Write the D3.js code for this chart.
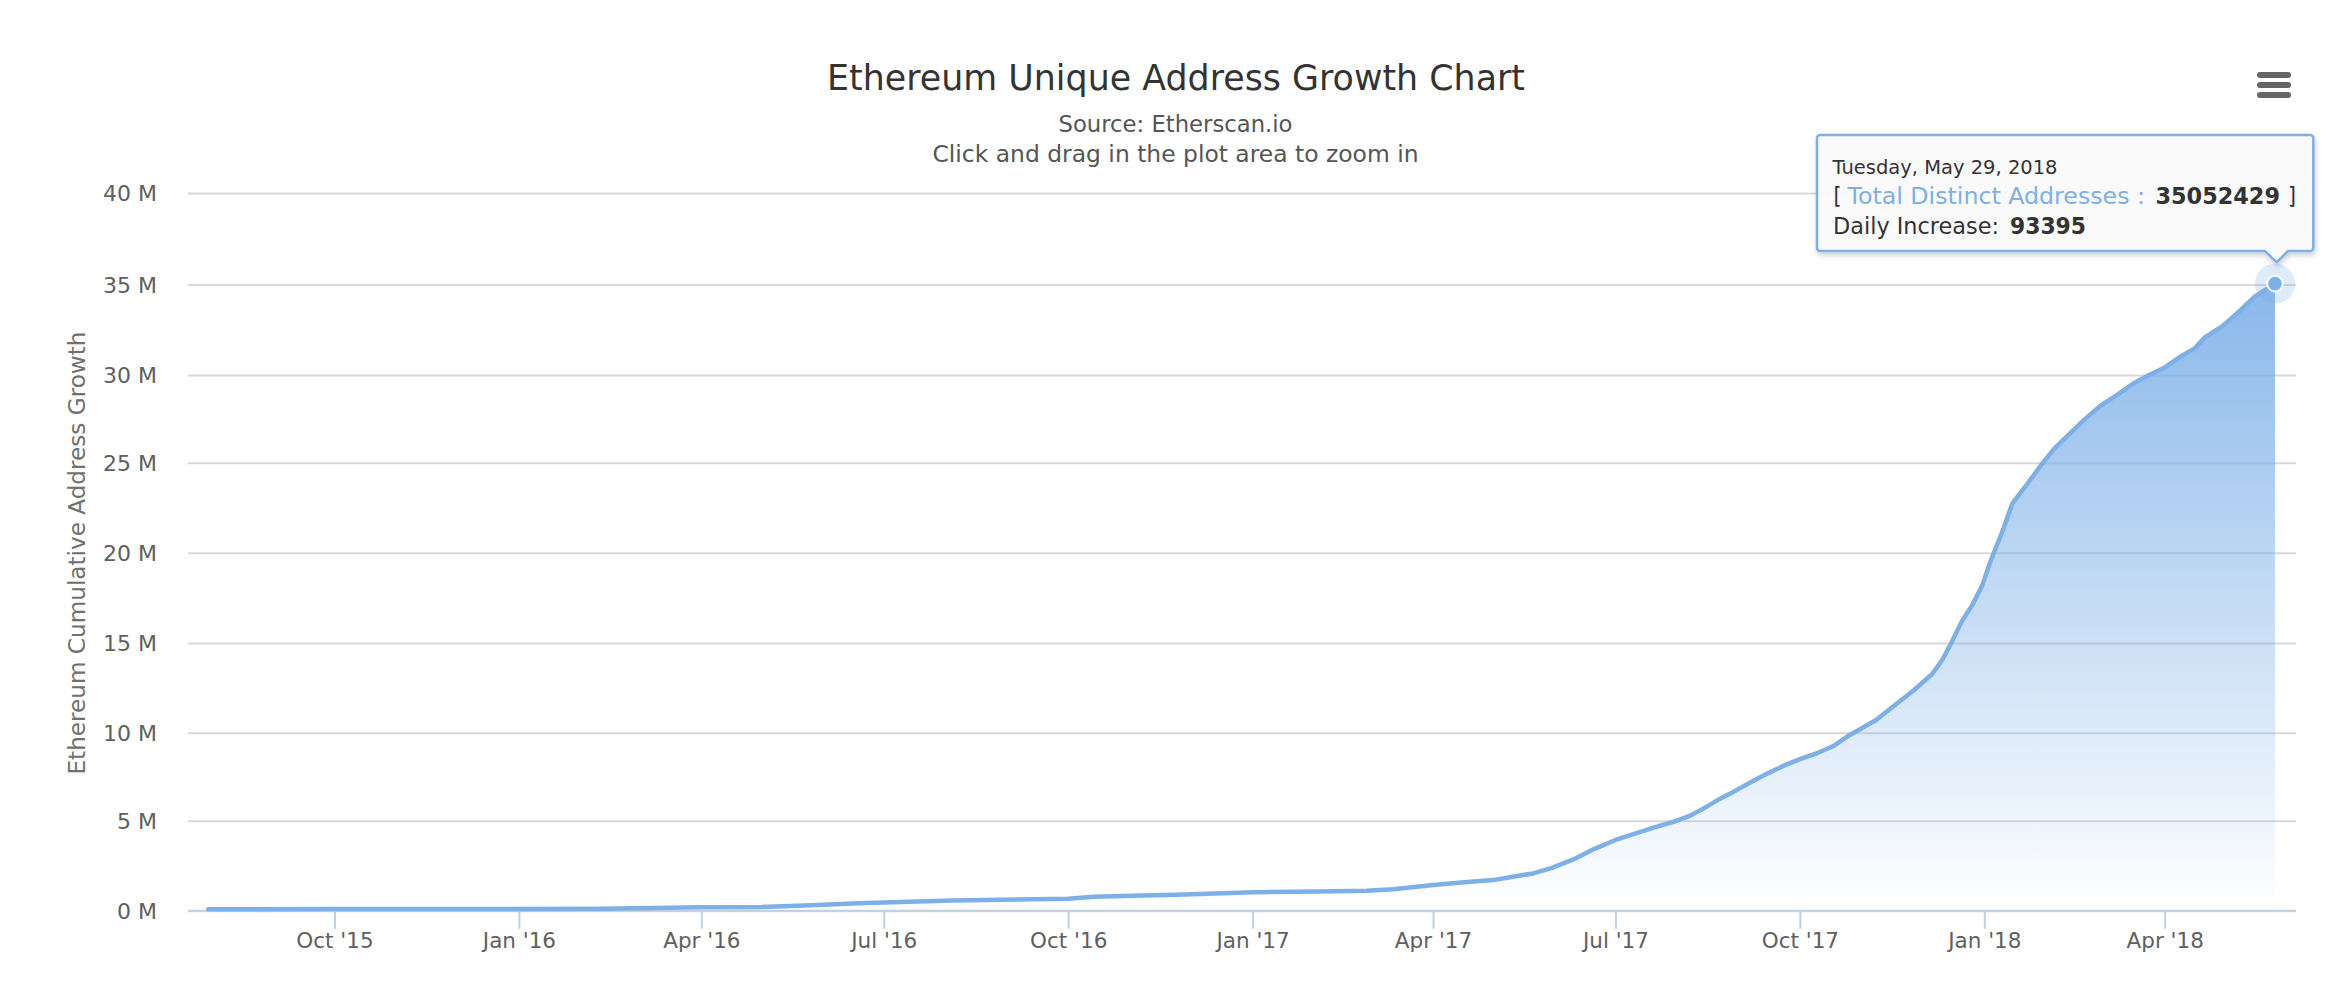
<!DOCTYPE html>
<html>
<head>
<meta charset="utf-8">
<title>Ethereum Unique Address Growth Chart</title>
<script src="https://cdnjs.cloudflare.com/ajax/libs/d3/7.8.5/d3.min.js"></script>
<style>
html,body{margin:0;padding:0;background:#fff;}
svg{display:block;}
text{font-family:"DejaVu Sans",sans-serif;}
</style>
</head>
<body>
<svg id="chart" width="2330" height="986"></svg>
<script>
const chartTitle = "Ethereum Unique Address Growth Chart";
const subtitleLines = ["Source: Etherscan.io", "Click and drag in the plot area to zoom in"];
const yAxisTitle = "Ethereum Cumulative Address Growth";
const seriesName = "Total Distinct Addresses";
const tooltipDate = "Tuesday, May 29, 2018";
const tooltipTotal = "35052429";
const tooltipDaily = "93395";

const dates = [
"2015-07-30","2015-10-01","2016-01-01","2016-02-11","2016-04-01","2016-05-01","2016-05-29","2016-06-18","2016-07-01","2016-08-04",
"2016-10-01","2016-10-14","2016-11-02","2016-11-24","2017-01-01","2017-02-02","2017-02-27","2017-03-12","2017-04-01","2017-04-18",
"2017-05-01","2017-05-13","2017-05-21","2017-05-30","2017-06-10","2017-06-20","2017-07-01","2017-07-10","2017-07-20","2017-07-30",
"2017-08-07","2017-08-14","2017-08-21","2017-08-29","2017-09-06","2017-09-15","2017-09-23","2017-10-01","2017-10-10","2017-10-18",
"2017-10-25","2017-10-31","2017-11-08","2017-11-17","2017-11-27","2017-12-06","2017-12-11","2017-12-15","2017-12-21","2017-12-26",
"2017-12-31","2018-01-04","2018-01-10","2018-01-15","2018-01-22","2018-01-30","2018-02-05","2018-02-12","2018-02-20","2018-02-28",
"2018-03-09","2018-03-17","2018-03-24","2018-04-01","2018-04-08","2018-04-16","2018-04-21","2018-04-30","2018-05-08","2018-05-16",
"2018-05-26"
];
const totalMillions = [
0.08,0.09,0.10,0.11,0.185,0.20,0.31,0.41,0.46,0.56,
0.67,0.78,0.83,0.89,1.02,1.07,1.11,1.19,1.43,1.59,
1.70,1.93,2.07,2.37,2.85,3.41,3.93,4.26,4.61,4.94,
5.27,5.70,6.17,6.65,7.16,7.69,8.13,8.50,8.86,9.26,
9.81,10.19,10.71,11.50,12.38,13.27,14.05,14.89,16.24,17.10,
18.19,19.50,21.17,22.74,23.76,24.96,25.82,26.58,27.47,28.25,
28.92,29.56,29.98,30.41,30.96,31.48,32.08,32.71,33.50,34.34,
35.05
];
const yTicks = [0,5,10,15,20,25,30,35,40];
const yTickRows = [910.7,820.7,732.7,643,552.7,462.7,375,284.5,193];
const xTickDates = ["2015-10-01","2016-01-01","2016-04-01","2016-07-01","2016-10-01","2017-01-01","2017-04-01","2017-07-01","2017-10-01","2018-01-01","2018-04-01"];
const xDomain = ["2015-07-19T22:00:00Z","2018-06-05T12:00:00Z"];

const plot = {left:188,right:2296};
const lineColor = "#7db0e8";
const svg = d3.select("#chart");

const x = d3.scaleUtc().domain(xDomain.map(d=>new Date(d))).range([plot.left,plot.right]);
const y = d3.scaleLinear().domain(yTicks).range(yTickRows);
const points = dates.map((d,i)=>({date:new Date(d+"T00:00:00Z"),value:totalMillions[i]}));
const last = points[points.length-1];

// gradient
const grad = svg.append("defs").append("linearGradient").attr("id","fade")
  .attr("gradientUnits","userSpaceOnUse")
  .attr("x1",0).attr("x2",0).attr("y1",y(last.value)).attr("y2",y(0));
grad.append("stop").attr("offset",0).attr("stop-color",lineColor).attr("stop-opacity",0.91);
grad.append("stop").attr("offset",1).attr("stop-color",lineColor).attr("stop-opacity",0);

const shadow = svg.select("defs").append("filter").attr("id","tipShadow")
  .attr("x","-5%").attr("y","-10%").attr("width","110%").attr("height","125%");
shadow.append("feDropShadow").attr("dx",1).attr("dy",3).attr("stdDeviation",2.5)
  .attr("flood-color","#000").attr("flood-opacity",0.2);

// y axis and grid
const yAxis = d3.axisLeft(y).tickValues(yTicks).tickFormat(d=>d+" M").tickSize(0).tickPadding(31);
const gy = svg.append("g").attr("transform",`translate(${plot.left},0)`).call(yAxis);
gy.select(".domain").remove();
gy.selectAll("text").attr("font-size",22).attr("fill","#606060").attr("dy","0.36em").style("font-family",'"DejaVu Sans",sans-serif');
gy.selectAll(".tick").append("line").attr("x1",0).attr("x2",plot.right-plot.left)
  .attr("stroke","#d8d8d8").attr("stroke-width",2);

// area + line
const area = d3.area().x(d=>x(d.date)).y0(y(0)).y1(d=>y(d.value)).curve(d3.curveLinear);
const line = d3.line().x(d=>x(d.date)).y(d=>y(d.value)).curve(d3.curveLinear);
svg.append("path").datum(points).attr("d",area).attr("fill","url(#fade)");

// x axis
const xAxis = d3.axisBottom(x).tickValues(xTickDates.map(d=>new Date(d+"T00:00:00Z")))
  .tickFormat(d3.utcFormat("%b '%y")).tickSize(18).tickPadding(4);
const gx = svg.append("g").attr("transform",`translate(0,${y(0)})`).call(xAxis);
gx.select(".domain").attr("stroke","#c0d0e0").attr("stroke-width",2).attr("d",`M${plot.left},0H${plot.right}`);
gx.selectAll(".tick line").attr("stroke","#c0d0e0").attr("stroke-width",2);
gx.selectAll("text").attr("font-size",21.5).attr("fill","#606060").style("font-family",'"DejaVu Sans",sans-serif');

svg.append("path").datum(points).attr("d",line).attr("fill","none")
  .attr("stroke",lineColor).attr("stroke-width",4.5).attr("stroke-linejoin","round").attr("stroke-linecap","round");

// hover marker
const mx = x(last.date), my = y(last.value);
svg.append("circle").attr("cx",mx).attr("cy",my).attr("r",20).attr("fill",lineColor).attr("opacity",0.25);
svg.append("circle").attr("cx",mx).attr("cy",my).attr("r",7.8).attr("fill",lineColor).attr("stroke","#fff").attr("stroke-width",2);

// titles
svg.append("text").attr("x",1176).attr("y",90).attr("text-anchor","middle").attr("font-size",35)
  .attr("fill","#333").attr("textLength",698).attr("lengthAdjust","spacingAndGlyphs").text(chartTitle);
const subWidths = [234,486], subRows = [131.7,161.7];
subtitleLines.forEach((t,i)=>{
  svg.append("text").attr("x",1175.5).attr("y",subRows[i]).attr("text-anchor","middle").attr("font-size",23.5)
    .attr("fill","#555").attr("textLength",subWidths[i]).attr("lengthAdjust","spacingAndGlyphs").text(t);
});

// y axis title
svg.append("text").attr("transform","translate(85,553) rotate(-90)").attr("text-anchor","middle")
  .attr("font-size",23.5).attr("fill","#707070").attr("textLength",443).attr("lengthAdjust","spacingAndGlyphs").text(yAxisTitle);

// menu icon
const menuRows = [75,85,95];
svg.append("g").selectAll("rect").data(menuRows).join("rect")
  .attr("x",2257).attr("y",d=>d-3).attr("width",34).attr("height",6).attr("rx",3).attr("fill","#666");

// tooltip
const tip = svg.append("g");
tip.append("path")
  .attr("d","M1820,135H2310.3a3,3 0 0 1 3,3V248a3,3 0 0 1 -3,3H2288L2276.7,262.3L2265,251H1820a3,3 0 0 1 -3,-3V138a3,3 0 0 1 3,-3Z")
  .attr("fill","#fbfbfb").attr("fill-opacity",0.95).attr("stroke",lineColor).attr("stroke-width",2.5)
  .attr("filter","url(#tipShadow)");
const tipText = (xp,yp,size,color,weight,width,t)=>tip.append("text").attr("x",xp).attr("y",yp).attr("font-size",size)
  .attr("fill",color).attr("font-weight",weight).attr("textLength",width).attr("lengthAdjust","spacingAndGlyphs").text(t);
tipText(1832.5,174,19.5,"#333","normal",225,tooltipDate);
tipText(1833.5,203.7,23.5,"#333","normal",8,"[");
tipText(1847.5,203.7,23.5,lineColor,"normal",297.5,seriesName+" :");
tipText(2155.5,203.7,23.5,"#333","bold",124.5,tooltipTotal);
tipText(2288,203.7,23.5,"#333","normal",8,"]");
tipText(1833,233.7,23.5,"#333","normal",166,"Daily Increase:");
tipText(2010,233.7,23.5,"#333","bold",76,tooltipDaily);
</script>
</body>
</html>
